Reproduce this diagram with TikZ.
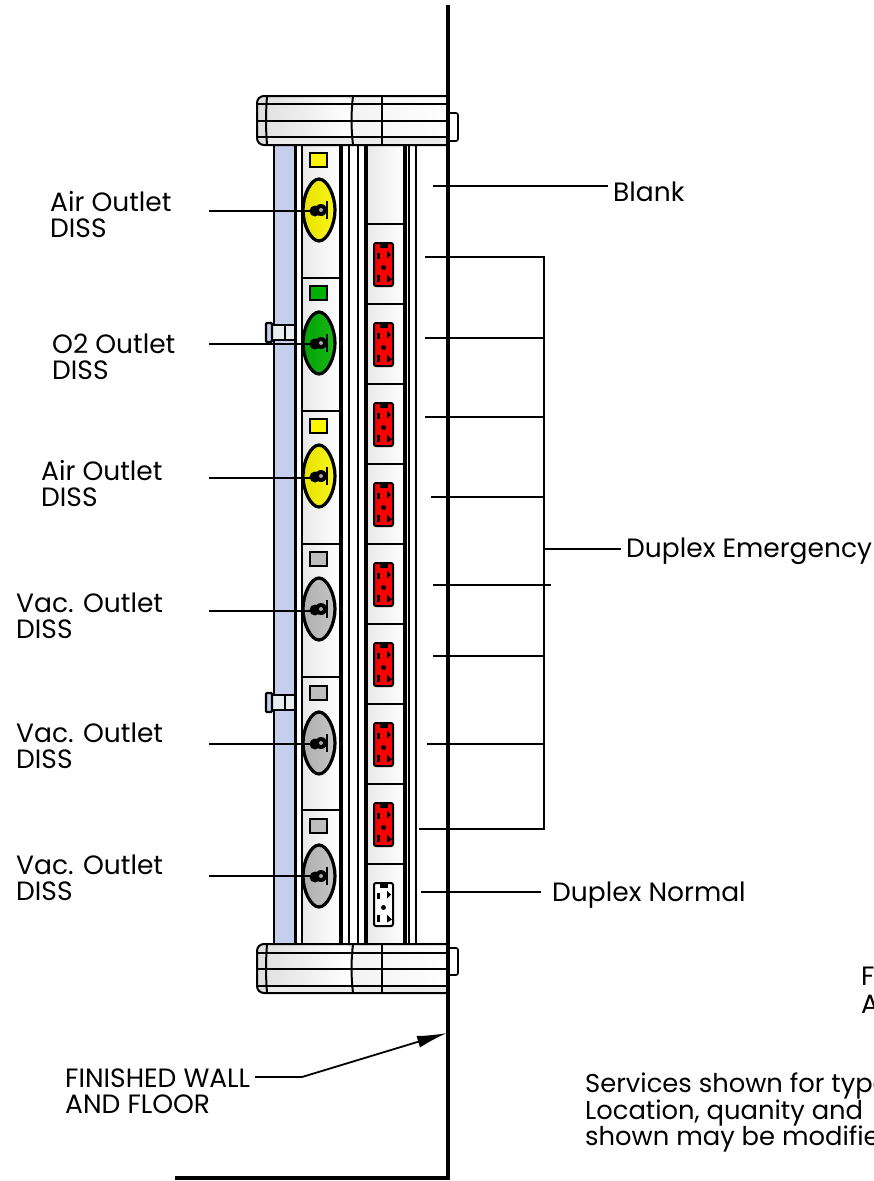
\documentclass[tikz,border=0pt]{standalone}
\usepackage{fontspec}
\setmainfont{Poppins}
\usetikzlibrary{arrows.meta}

\definecolor{railblue}{RGB}{197,206,235}
\definecolor{airyellow}{RGB}{250,245,0}
\definecolor{oxgreen}{RGB}{0,176,0}
\definecolor{vacgray}{RGB}{190,190,190}
\definecolor{recred}{RGB}{250,0,0}
\definecolor{clampfill}{RGB}{232,238,240}

\lineskiplimit=-50pt
\normallineskiplimit=-50pt

\tikzstyle{every node}=[font=\fontsize{26.5}{26}\selectfont, inner sep=0pt, align=left]
\tikzstyle{leader}=[line width=1.8pt]
\tikzstyle{thin edge}=[line width=1.5pt]
\tikzstyle{thick edge}=[line width=3.2pt]
\tikzstyle{divider}=[line width=2pt]
\tikzstyle{panel}=[left color=black!9, right color=white]

\newcommand{\outletjack}[2]{
  \draw[line width=1.5pt, fill=#2] (310,#1-7) rectangle (327,#1+7);
  \draw[thick edge, left color=#2!92!black, right color=#2!90!white]
    (319,#1+19) .. controls (327,#1+19) and (335,#1+35) .. (335,#1+50)
    .. controls (335,#1+65) and (327,#1+81) .. (319,#1+81)
    .. controls (311,#1+81) and (303,#1+65) .. (303,#1+50)
    .. controls (303,#1+35) and (311,#1+19) .. (319,#1+19) -- cycle;
  \fill (315,#1+51) circle (5.5);
  \fill (321,#1+50) circle (6);
  \fill[white!65!black] (321,#1+50) circle (2);
  \draw[line width=1.5pt] (327,#1+41) -- (327,#1+59);
}
\newcommand{\duplexrec}[2]{
  \draw[line width=2pt, fill=#2, rounded corners=2pt] (374,#1-21.5) rectangle (393,#1+21.5);
  \fill (377,#1-12) rectangle (380,#1-6);
  \fill (387,#1-14) -- (391,#1-10) -- (387,#1-6) -- cycle;
  \fill (383.5,#1+3) circle (2.5);
  \fill (377,#1+10) rectangle (380,#1+17);
  \fill (387,#1+10) -- (392,#1+15) -- (387,#1+18) -- cycle;
  \fill (380,#1-21) rectangle (388,#1-17);
}
\newcommand{\railclamp}[1]{
  \draw[line width=1.6pt, fill=clampfill] (272,#1+2) rectangle (295,#1+17);
  \draw[line width=1.6pt] (285,#1+2) -- (285,#1+17);
  \draw[line width=2.2pt, fill=railblue, rounded corners=1pt] (266,#1) rectangle (272,#1+19);
}
\newcommand{\headerclamp}[5]{
  \fill[left color=black!13, right color=white, rounded corners=7pt] (257,#1) rectangle (352,#5);
  \fill[left color=black!5, right color=white] (352,#1) -- (352,#5) -- (448,#5) -- (448,#1) -- cycle;
  \fill[black!8] (268,#4) rectangle (448,#5);
  \draw[rounded corners=7pt, line width=2pt] (448,#1) -- (257,#1) -- (257,#5) -- (448,#5);
  \draw[line width=2pt] (448,#2) -- (257,#2) (448,#3) -- (257,#3) (448,#4) -- (257,#4);
  \draw[line width=2pt] (267,#1) to[bend right=4] (267,#5);
  \draw[line width=2pt] (353,#1) to[bend right=6] (353,#5);
  \draw[line width=2pt] (382,#1) -- (382,#5);
}

\begin{document}
\begin{tikzpicture}[x=1pt, y=-1pt]
  \useasboundingbox (0,0) rectangle (874,1181);
  \fill[white] (0,0) rectangle (874,1181);

  \fill[railblue] (274,145) rectangle (295,944);
  \fill[panel] (302,145) rectangle (340,944);
  \fill[panel] (366,145) rectangle (405,944);
  \draw[thin edge] (274,145) -- (274,944);
  \draw[thick edge] (295.5,145) -- (295.5,944);
  \draw[thin edge] (302,145) -- (302,944);
  \draw[line width=4pt] (341,145) -- (341,944);
  \draw[thin edge] (349,145) -- (349,944);
  \draw[thin edge] (358,145) -- (358,944);
  \draw[thick edge] (366,145) -- (366,944);
  \draw[thick edge] (405,145) -- (405,944);
  \draw[thin edge] (409,145) -- (409,944);
  \draw[thin edge] (416,145) -- (416,944);

  \draw[divider] (302,278) -- (340,278);
  \draw[divider] (302,411) -- (340,411);
  \draw[divider] (302,544) -- (340,544);
  \draw[divider] (302,677) -- (340,677);
  \draw[divider] (302,810) -- (340,810);

  \draw[divider] (366,224) -- (405,224);
  \draw[divider] (366,304) -- (405,304);
  \draw[divider] (366,384) -- (405,384);
  \draw[divider] (366,464) -- (405,464);
  \draw[divider] (366,544) -- (405,544);
  \draw[divider] (366,624) -- (405,624);
  \draw[divider] (366,704) -- (405,704);
  \draw[divider] (366,784) -- (405,784);
  \draw[divider] (366,864) -- (405,864);

  \outletjack{160}{airyellow}
  \outletjack{293}{oxgreen}
  \outletjack{426}{airyellow}
  \outletjack{559}{vacgray}
  \outletjack{693}{vacgray}
  \outletjack{826}{vacgray}

  \duplexrec{264.5}{recred}
  \duplexrec{344.5}{recred}
  \duplexrec{424.5}{recred}
  \duplexrec{504.5}{recred}
  \duplexrec{584.5}{recred}
  \duplexrec{664.5}{recred}
  \duplexrec{744.5}{recred}
  \duplexrec{824.5}{recred}
  \duplexrec{904.5}{white}

  \railclamp{323}
  \railclamp{693}

  \headerclamp{96}{104}{120.5}{136.5}{145}
  \headerclamp{944}{953}{969}{986}{993}

  \draw[line width=1.6pt, rounded corners=2pt] (450,113) -- (458,113) -- (458,141) -- (450,141);
  \draw[line width=1.6pt, rounded corners=2pt] (450,948) -- (458,948) -- (458,975) -- (450,975);

  \coordinate (wallTop) at (448,5);
  \coordinate (wallFoot) at (448,1178);
  \coordinate (floorEnd) at (175,1178);
  \draw[line width=3.2pt] (wallTop) -- (wallFoot) -- (floorEnd);

  \node[anchor=west] (air1) at (50,215) {Air Outlet\\DISS};
  \node[anchor=west] (o2) at (52,357) {O2 Outlet\\DISS};
  \node[anchor=west] (air2) at (41,484) {Air Outlet\\DISS};
  \node[anchor=west] (vac1) at (16,616) {Vac. Outlet\\DISS};
  \node[anchor=west] (vac2) at (16,746) {Vac. Outlet\\DISS};
  \node[anchor=west] (vac3) at (16,878) {Vac. Outlet\\DISS};
  \node[anchor=west] (blank) at (613,192) {Blank};
  \node[anchor=west] (emergency) at (626,551) {Duplex Emergency};
  \node[anchor=west] (normal) at (552,895) {Duplex Normal};
  \node[anchor=west] (wallnote) at (65,1091) {FINISHED WALL\\AND FLOOR};
  \node[anchor=north west, font=\fontsize{25.8}{26.5}\selectfont] (svcnote) at (585,1073) {Services shown for type\\Location, quanity and\\shown may be modifie};
  \node[anchor=north west] (cutnote) at (861,967) {F\\[2pt]A};

  \coordinate (air1End) at (310,211);
  \coordinate (o2End) at (310,344);
  \coordinate (air2End) at (310,478);
  \coordinate (vac1End) at (310,611);
  \coordinate (vac2End) at (310,744);
  \coordinate (vac3End) at (310,876);
  \draw[leader] (209,211) -- (air1End);
  \draw[leader] (209,344) -- (o2End);
  \draw[leader] (209,478) -- (air2End);
  \draw[leader] (209,611) -- (vac1End);
  \draw[leader] (209,744) -- (vac2End);
  \draw[leader] (209,876) -- (vac3End);

  \coordinate (blankEnd) at (433,186);
  \draw[leader] (blankEnd) -- (608,186);

  \coordinate (busTop) at (544,257);
  \coordinate (busBot) at (544,829);
  \draw[leader] (425,257) -- (busTop) -- (busBot) -- (419,829);
  \draw[leader] (425,338) -- (544,338);
  \draw[leader] (425,417) -- (544,417);
  \draw[leader] (431,497) -- (544,497);
  \draw[leader] (433,585) -- (551,585);
  \draw[leader] (433,656) -- (544,656);
  \draw[leader] (427,744) -- (544,744);
  \draw[leader] (544,549) -- (621,549);

  \coordinate (normalEnd) at (421,892);
  \draw[leader] (normalEnd) -- (541,892);

  \coordinate (wallPoint) at (447,1033);
  \coordinate (wallKnee) at (302,1077);
  \draw[leader, -{Latex[length=30pt, width=12pt]}] (255,1077) -- (wallKnee) -- (wallPoint);
\end{tikzpicture}
\end{document}
